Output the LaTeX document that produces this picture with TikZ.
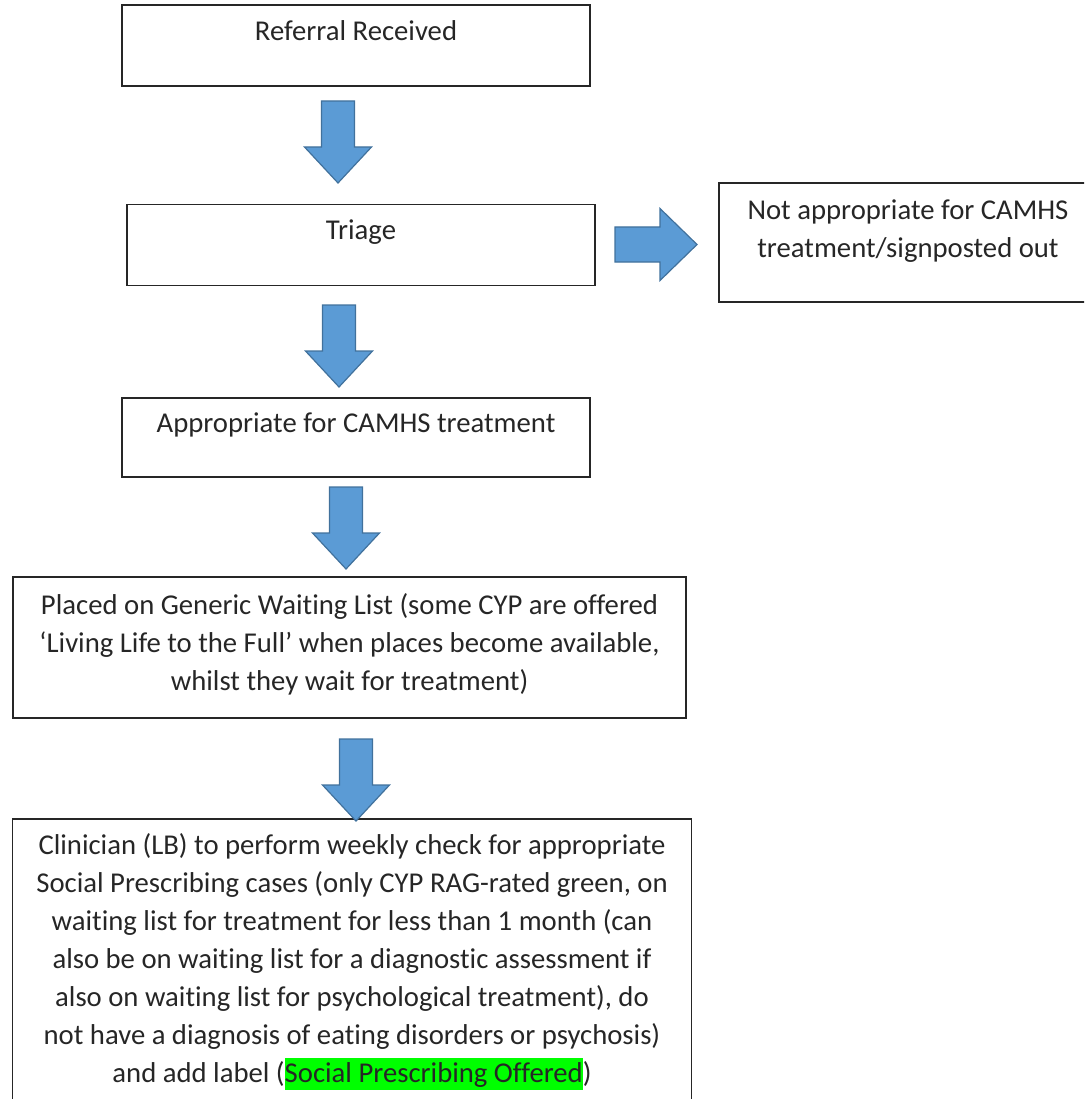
\documentclass[tikz,border=0pt]{standalone}
\usepackage{fontspec}
\setmainfont{Carlito}[Ligatures={TeX,NoCommon}]
\usepackage{xcolor}
\usetikzlibrary{positioning}
\definecolor{arrfill}{HTML}{5B9BD5}
\definecolor{arrline}{HTML}{41719C}
\definecolor{hlgreen}{HTML}{00FF00}
\newcommand{\hlite}[1]{{\setlength{\fboxsep}{0pt}\colorbox{hlgreen}{\rule[-8pt]{0pt}{32pt}#1}}}

\begin{document}
\begin{tikzpicture}[
  x=1pt, y=-1pt,
  box/.style={draw=black!85, line width=1.5pt, rectangle, inner sep=0pt},
  txt/.style={font=\fontsize{28.7}{38}\selectfont, align=center, inner sep=0pt, text=black!85},
  blockarrow/.style={fill=arrfill, draw=arrline, line width=1.2pt, line join=miter},
  downarr/.pic={\path[blockarrow] (-16.5,0) -- (16.5,0) -- (16.5,46) -- (33.5,46)
      -- (0,82) -- (-33.5,46) -- (-16.5,46) -- cycle;},
  rightarr/.pic={\path[blockarrow] (0,-17.5) -- (45,-17.5) -- (45,-36) -- (82,0)
      -- (45,36) -- (45,17.5) -- (0,17.5) -- cycle;}
]
  \useasboundingbox (0,0) rectangle (1084,1099);
  \clip (0,0) rectangle (1084,1099);

  % --- boxes ---
  \node[box, minimum width=468, minimum height=81] (rr) at (356,45.5) {};
  \node[txt, below=16pt of rr.north] (rrt) {Referral Received};

  \node[box, minimum width=468, minimum height=81] (tr) at (361,245) {};
  \node[txt, below=16pt of tr.north] (trt) {Triage};

  \node[box, minimum width=380, minimum height=119] (na) at (909,242.5) {};
  \node[txt, anchor=north] (nat) at (908,200) {Not appropriate for CAMHS\\treatment/signposted out};

  \node[box, minimum width=468, minimum height=79] (ap) at (356,437.5) {};
  \node[txt, below=15pt of ap.north] (apt) {Appropriate for CAMHS treatment};

  \node[box, minimum width=673, minimum height=141] (wl) at (349.5,647.5) {};
  \node[txt, below=17pt of wl.north] (wlt) {Placed on Generic Waiting List (some CYP are offered\\
    ‘Living Life to the Full’ when places become available,\\
    whilst they wait for treatment)};

  \node[box, minimum width=679, minimum height=320, anchor=north] (cl) at (352,818) {};
  \node[txt, below=15pt of cl.north] (clt) {Clinician (LB) to perform weekly check for appropriate\\
    Social Prescribing cases (only CYP RAG-rated green, on\\
    waiting list for treatment for less than 1 month (can\\
    also be on waiting list for a diagnostic assessment if\\
    also on waiting list for psychological treatment), do\\
    not have a diagnosis of eating disorders or psychosis)\\
    and add label (\hlite{Social Prescribing Offered})};

  % --- block arrows ---
  \pic at (338,101) {downarr};
  \pic at (339,305) {downarr};
  \pic at (346,487) {downarr};
  \pic at (356,739) {downarr};
  \pic at (615,244.5) {rightarr};
\end{tikzpicture}
\end{document}
